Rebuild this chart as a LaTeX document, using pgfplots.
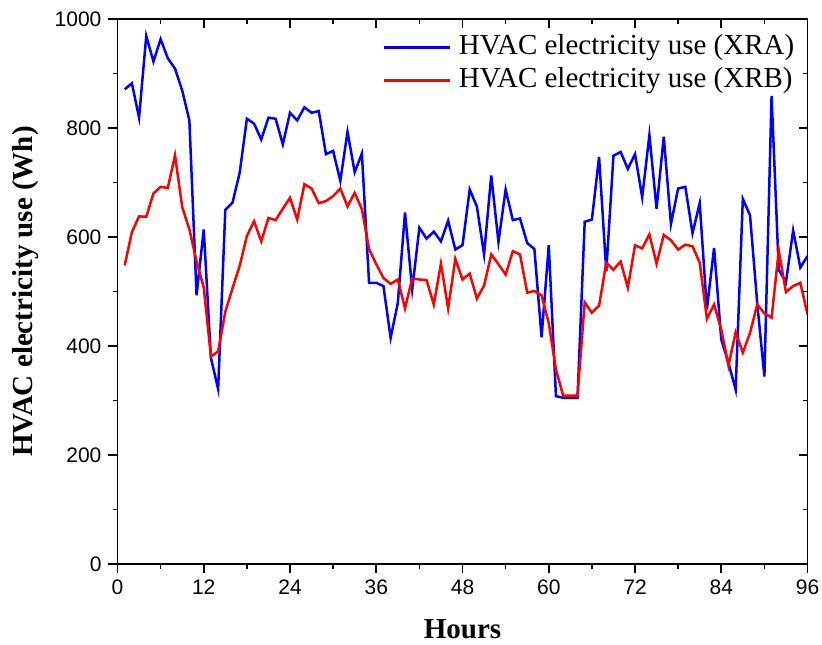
\documentclass[border=0pt]{standalone}
\usepackage{fontspec}
\setmainfont{Liberation Serif}
\newfontfamily\ticksf{Liberation Sans}
\usepackage{pgfplots}
\pgfplotsset{compat=1.18}

% hourly HVAC use
\pgfplotstableread{
h xra xrb
1 871 548
2 882 609
3 819 638
4 969 637
5 922 680
6 963 692
7 928 690
8 909 750
9 869 655
10 814 614
11 493 555
12 614 507
13 378 381
14 321 390
15 650 463
16 663 506
17 718 547
18 817 602
19 808 629
20 779 592
21 819 635
22 817 631
23 770 652
24 828 672
25 814 632
26 838 697
27 828 689
28 831 662
29 752 666
30 758 675
31 703 689
32 793 656
33 719 681
34 753 651
35 516 578
36 516 550
37 510 525
38 415 514
39 479 522
40 645 469
41 504 524
42 617 522
43 597 521
44 610 476
45 592 551
46 630 469
47 577 560
48 585 522
49 687 533
50 656 487
51 568 511
52 713 568
53 591 550
54 687 531
55 631 574
56 634 568
57 589 498
58 578 501
59 416 493
60 585 442
61 308 357
62 305 309
63 305 309
64 305 309
65 628 480
66 632 461
67 747 474
68 537 553
69 749 540
70 756 555
71 725 507
72 752 585
73 673 579
74 787 605
75 652 551
76 784 604
77 624 594
78 689 577
79 692 586
80 607 583
81 662 553
82 467 450
83 580 476
84 412 430
85 369 364
86 320 425
87 670 388
88 640 424
89 479 476
90 344 460
91 859 452
92 540 575
93 517 499
94 612 510
95 544 516
96 565 458
}\hvac

\begin{document}
\begin{tikzpicture}
\useasboundingbox (-58.75pt,-40pt) rectangle (352.25pt,282pt);
\pgfplotsset{
  frame/.style={
    at={(0,0)}, anchor=south west,
    scale only axis, width=345pt, height=272.5pt,
    xmin=0, xmax=96, ymin=0, ymax=1000,
    xtick={0,12,...,96}, minor x tick num=1,
    ytick={0,200,...,1000}, minor y tick num=1,
    major tick length=4.5pt, minor tick length=2.5pt,
    axis line style={line width=0.9pt},
    tick style={line width=0.8pt, black},
  }
}
\begin{axis}[
  frame,
  xtick pos=bottom, ytick pos=left, tick align=outside,
  /pgf/number format/assume math mode=true,
  /pgf/number format/1000 sep={},
  ticklabel style={font=\ticksf\fontsize{10.5}{12}\selectfont},
  xlabel={Hours}, ylabel={HVAC electricity use (Wh)},
  every axis x label/.style={at={(axis description cs:0.5,-0.1193)}, anchor=center,
    font=\bfseries\fontsize{14.5}{17}\selectfont},
  every axis y label/.style={at={(axis description cs:-0.1326,0.5)}, rotate=90, anchor=center,
    font=\bfseries\fontsize{14.5}{17}\selectfont},
  legend style={at={(axis description cs:0.99,0.98)}, anchor=north east,
    draw=none, fill=none, font=\fontsize{14.5}{17}\selectfont,
    row sep=3.2pt, nodes={inner sep=0pt, text height=10pt, text depth=3.3pt}},
  legend cell align=left,
  legend image code/.code={\draw[#1] (0pt,0pt) -- (33pt,0pt);},
]
\addplot[blue, line width=1.25pt] table[x=h, y=xra] {\hvac};
\addplot[red, line width=1.25pt] table[x=h, y=xrb] {\hvac};
\legend{\ HVAC electricity use (XRA), \ HVAC electricity use (XRB)}
\end{axis}
\begin{axis}[
  frame,
  xtick pos=top, ytick pos=right, tick align=inside,
  xticklabels={}, yticklabels={},
]
\end{axis}
\end{tikzpicture}
\end{document}
